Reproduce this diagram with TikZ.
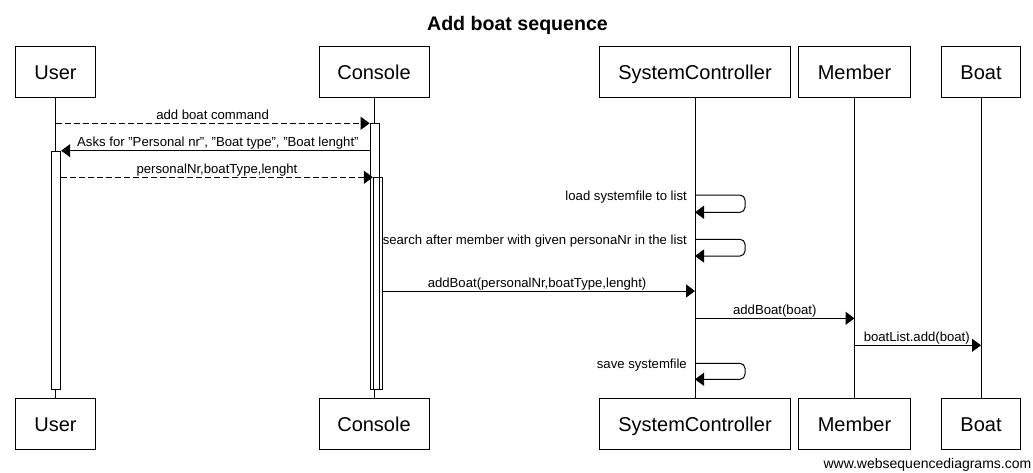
\documentclass[tikz,border=0pt]{standalone}
\usepackage{fontspec}
\setmainfont{Liberation Sans}
\usetikzlibrary{arrows.meta}
\begin{document}
\begin{tikzpicture}[x=1pt,y=-1pt,
  part/.style={draw, line width=1pt, minimum height=51pt, inner sep=0pt, text height=14.5pt, text depth=0.5pt, font=\fontsize{20}{24}\selectfont},
  life/.style={line width=1pt},
  act/.style={draw, line width=1pt, minimum width=9.3pt, inner sep=0pt, anchor=north},
  msg/.style={line width=1pt, -{Triangle[length=9pt,width=13pt]}},
  ret/.style={msg, dash pattern=on 6pt off 3pt},
  lbl/.style={font=\fontsize{13.15}{15}\selectfont, anchor=base, inner sep=0pt},
  slbl/.style={font=\fontsize{13.15}{15}\selectfont, anchor=base east, inner sep=0pt}
]
\useasboundingbox (0,0) rectangle (1033,472);
\node[font=\bfseries\fontsize{19.6}{23}\selectfont, anchor=base] (title) at (517.5,30.7) {Add boat sequence};
% participants
\node[part, minimum width=80pt]  (uT) at (55.5,72) {User};
\node[part, minimum width=110pt] (cT) at (374,72) {Console};
\node[part, minimum width=191pt] (sT) at (695,72) {SystemController};
\node[part, minimum width=112pt] (mT) at (854.5,72) {Member};
\node[part, minimum width=79pt]  (bT) at (981,72) {Boat};
\node[part, minimum width=80pt]  (uB) at (55.5,424) {User};
\node[part, minimum width=110pt] (cB) at (374,424) {Console};
\node[part, minimum width=191pt] (sB) at (695,424) {SystemController};
\node[part, minimum width=112pt] (mB) at (854.5,424) {Member};
\node[part, minimum width=79pt]  (bB) at (981,424) {Boat};
% lifelines
\draw[life] (uT.south) -- (uB.north);
\draw[life] (cT.south) -- (cB.north);
\draw[life] (sT.south) -- (sB.north);
\draw[life] (mT.south) -- (mB.north);
\draw[life] (bT.south) -- (bB.north);
% activations
\node[act, fill=white, minimum height=238.6pt] (uA) at (56,150.7) {};
\node[act, fill=white, minimum height=266pt] (cA1) at (374.8,123.3) {};
\node[act, minimum height=212pt] (cA2) at (378,177.3) {};
% coordinates
\coordinate (y1) at (0,123.3);
\coordinate (y2) at (0,150.7);
\coordinate (y3) at (0,177.3);
\coordinate (s1a) at (sT.south |- 0,195);
\coordinate (s1b) at (sT.south |- 0,212.3);
\coordinate (s2a) at (sT.south |- 0,239.3);
\coordinate (s2b) at (sT.south |- 0,256);
\coordinate (y6) at (0,291);
\coordinate (y7) at (0,318.3);
\coordinate (y8) at (0,345.3);
\coordinate (s3a) at (sT.south |- 0,363.3);
\coordinate (s3b) at (sT.south |- 0,379.3);
\coordinate (loopx) at (745,0);
% messages
\draw[ret] (uT.south |- y1) -- node[lbl, yshift=4.3pt] {add boat command} (cA1.west |- y1);
\draw[msg] (cA1.west |- y2) -- node[lbl, yshift=4pt, xshift=2.5pt] {Asks for "Personal nr", "Boat type", "Boat lenght"} (uA.east |- y2);
\draw[ret] (uA.east |- y3) -- node[lbl, yshift=4pt] {personalNr,boatType,lenght} (cA2.west |- y3);
\draw[msg, rounded corners=5pt] (s1a) -- (loopx |- s1a) -- (loopx |- s1b) -- (s1b);
\node[slbl] (l4) at (687,200) {load systemfile to list};
\draw[msg, rounded corners=5pt] (s2a) -- (loopx |- s2a) -- (loopx |- s2b) -- (s2b);
\node[slbl] (l5) at (687,244.3) {search after member with given personaNr in the list};
\draw[msg] (cA2.east |- y6) -- node[lbl, yshift=4pt, xshift=-2pt] {addBoat(personalNr,boatType,lenght)} (sT.south |- y6);
\draw[msg] (sT.south |- y7) -- node[lbl, yshift=4pt] {addBoat(boat)} (mT.south |- y7);
\draw[msg] (mT.south |- y8) -- node[lbl, yshift=4pt, xshift=-1pt] {boatList.add(boat)} (bT.south |- y8);
\draw[msg, rounded corners=5pt] (s3a) -- (loopx |- s3a) -- (loopx |- s3b) -- (s3b);
\node[slbl] (l9) at (687,368) {save systemfile};
% footer
\node[font=\fontsize{14}{16}\selectfont, anchor=base east, inner sep=0pt] (foot) at (1031.5,468.3) {www.websequencediagrams.com};
\end{tikzpicture}
\end{document}
